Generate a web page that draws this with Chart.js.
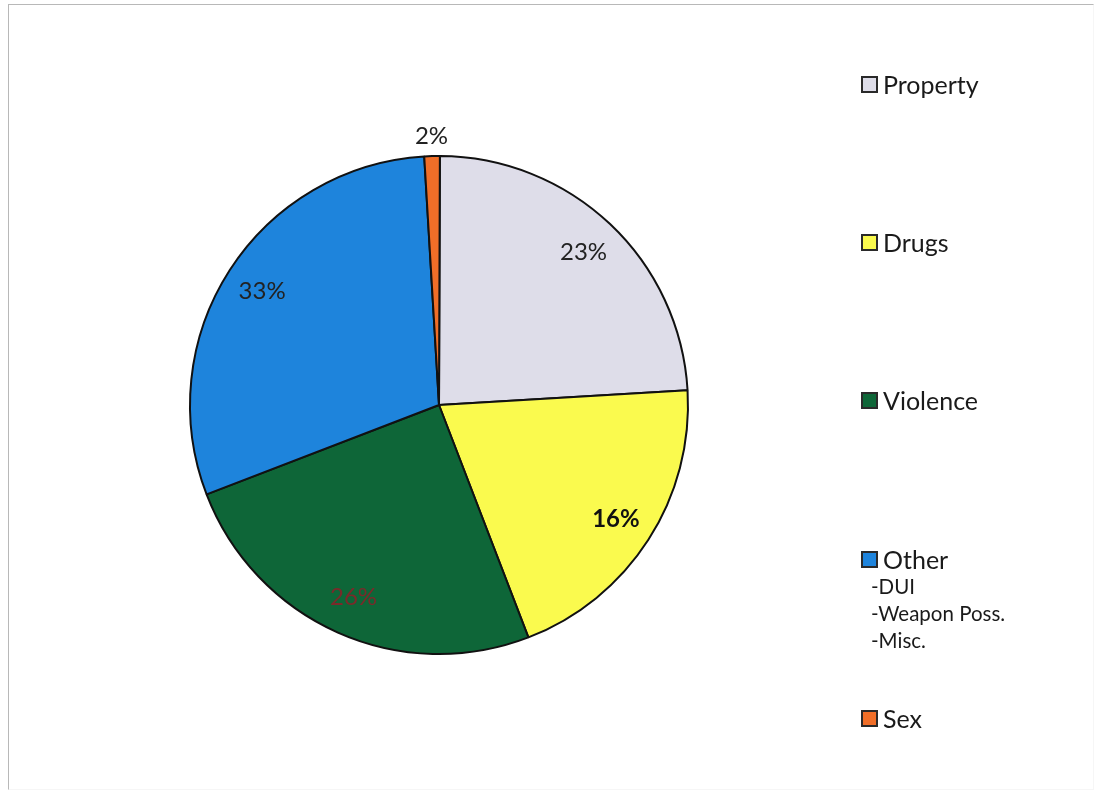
<!DOCTYPE html>
<html>
<head>
<meta charset="utf-8">
<script src="https://cdn.jsdelivr.net/npm/chart.js@4"></script>
<style>
  html, body { margin: 0; padding: 0; background: #fff; }
  #wrap { position: relative; width: 1096px; height: 792px; overflow: hidden; background: #fff; }
  #frame { position: absolute; left: 8px; top: 4px; width: 1086px; height: 786px;
           border-top: 1.5px solid #b8b8b8; border-left: 1.5px solid #b8b8b8;
           border-right: 1px solid #f6f6f6; border-bottom: 1px solid #f6f6f6; box-sizing: border-box; }
  canvas { position: absolute; left: 0; top: 0; }
  .lg { position: absolute; left: 861px; font-family: Lato, "Open Sans", sans-serif; color: #1a1a1a; }
  .lg .row { display: flex; align-items: center; height: 24px; font-size: 25px; }
  .lg .sw { width: 13px; height: 13px; border: 2px solid #2a2a2a; margin-right: 5px; flex: none; }
  .lg .sub { font-size: 20.5px; margin-left: 10px; line-height: 27px; }
</style>
</head>
<body>
<div id="wrap">
  <div id="frame"></div>
  <canvas id="c" width="1096" height="792"></canvas>
  <div id="legend"></div>
</div>
<script>
// ---- data ----
const categories = ['Property', 'Drugs', 'Violence', 'Other', 'Sex'];
// slice sizes as drawn in the picture (share of the circle, %)
const sliceShares = [24.0, 20.1, 25.0, 29.9, 1.0];
// percentages printed on the chart
const printedLabels = ['23%', '16%', '26%', '33%', '2%'];
const sliceColors = ['#DEDDE9', '#FAFA4E', '#0E6638', '#1E84DC', '#F06E28'];
const labelColors = ['#222222', '#111111', '#7a2a2a', '#222222', '#222222'];
const labelWeights = ['normal', 'bold', 'normal', 'normal', 'normal'];
const otherDetails = ['-DUI', '-Weapon Poss.', '-Misc.'];
const legendCenters = [84, 242, 400, 559, 718];

const labelPlugin = {
  id: 'sliceLabels',
  afterDatasetsDraw(chart) {
    const ctx = chart.ctx;
    const meta = chart.getDatasetMeta(0);
    ctx.save();
    ctx.textAlign = 'center';
    ctx.textBaseline = 'middle';
    meta.data.forEach((arc, i) => {
      const p = arc.getProps(['x', 'y', 'startAngle', 'endAngle', 'outerRadius'], true);
      const mid = (p.startAngle + p.endAngle) / 2;
      const small = sliceShares[i] < 3;
      const r = small ? p.outerRadius + 20 : p.outerRadius * 0.845;
      const x = p.x + Math.cos(mid) * r;
      const y = p.y + Math.sin(mid) * r;
      ctx.font = labelWeights[i] + ' 24px Lato, "Open Sans", sans-serif';
      ctx.fillStyle = labelColors[i];
      ctx.fillText(printedLabels[i], x, y);
    });
    ctx.restore();
  }
};

new Chart(document.getElementById('c'), {
  type: 'pie',
  data: {
    labels: categories,
    datasets: [{
      data: sliceShares,
      backgroundColor: sliceColors,
      borderColor: '#111111',
      borderWidth: 2,
      borderAlign: 'center'
    }]
  },
  options: {
    responsive: false,
    animation: false,
    rotation: 0.2,
    layout: { padding: { left: 189, top: 155, right: 407, bottom: 137 } },
    plugins: { legend: { display: false }, tooltip: { enabled: false } }
  },
  plugins: [labelPlugin]
});

// ---- HTML legend built from the arrays ----
const lg = document.getElementById('legend');
categories.forEach((name, i) => {
  const box = document.createElement('div');
  box.className = 'lg';
  box.style.top = (legendCenters[i] - 12) + 'px';
  const row = document.createElement('div');
  row.className = 'row';
  const sw = document.createElement('span');
  sw.className = 'sw';
  sw.style.background = sliceColors[i];
  const t = document.createElement('span');
  t.textContent = name;
  row.appendChild(sw); row.appendChild(t);
  box.appendChild(row);
  if (name === 'Other') {
    const sub = document.createElement('div');
    sub.className = 'sub';
    sub.style.marginTop = '2px';
    otherDetails.forEach(d => {
      const s = document.createElement('div');
      s.textContent = d;
      sub.appendChild(s);
    });
    box.appendChild(sub);
  }
  lg.appendChild(box);
});
</script>
</body>
</html>
